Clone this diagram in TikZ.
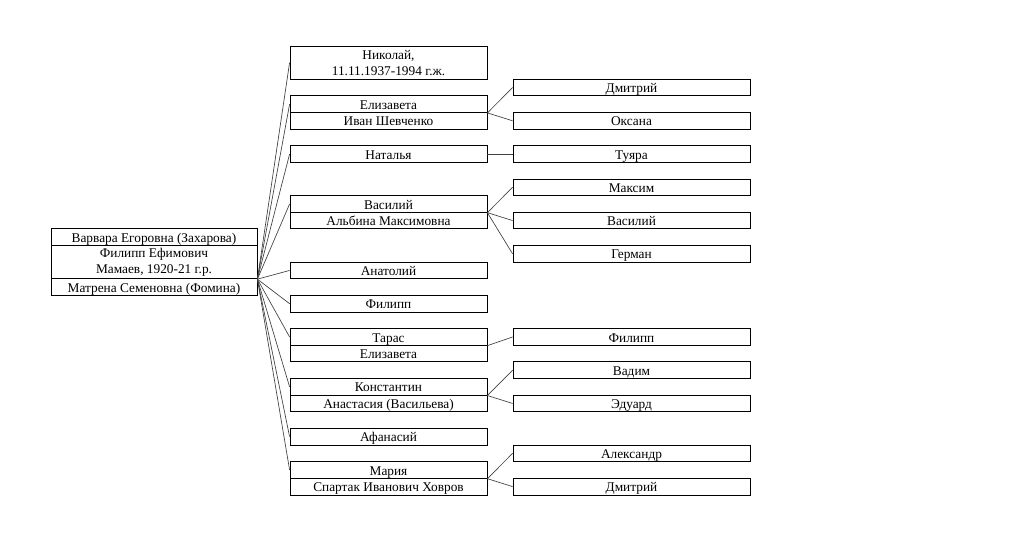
\documentclass[tikz,border=0pt]{standalone}
\usepackage{fontspec}
\setmainfont{Liberation Serif}
\begin{document}
\begin{tikzpicture}[x=0.75pt,y=-12.47pt]
            \tikzstyle{case}=[draw,line width=0.6pt,inner sep=0pt,minimum height=12.47pt,font=\fontsize{10}{12}\selectfont]
            \tikzstyle{ligne}=[case,text height=8pt,text depth=0.4pt]
            \tikzstyle{parent}=[minimum width=154.5pt]
            \tikzstyle{enfant}=[minimum width=147.75pt]
            \tikzstyle{petit}=[minimum width=177.75pt]
            \tikzset{lien/.style = {line width=0.5pt,black!75}}
            \useasboundingbox (0,-2.766) rectangle (1035,30.61);
            % parents
            \node[ligne,parent] (varvara) at (154,11.5) {Варвара Егоровна (Захарова)};
            \node[case,parent,minimum height=24.94pt,align=center] (filipp) at (154,13) {Филипп Ефимович\\Мамаев, 1920-21 г.р.};
            \node[ligne,parent] (matrena) at (154,14.5) {Матрена Семеновна (Фомина)};
            % enfants
            \node[case,enfant,minimum height=24.94pt,align=center] (nikolaj) at (388.5,1) {Николай,\\11.11.1937-1994 г.ж.};
            \node[ligne,enfant] (elizaveta) at (388.5,3.5) {Елизавета};
            \node[ligne,enfant] (ivan) at (388.5,4.5) {Иван Шевченко};
            \node[ligne,enfant] (natalja) at (388.5,6.5) {Наталья};
            \node[ligne,enfant] (vasilij) at (388.5,9.5) {Василий};
            \node[ligne,enfant] (albina) at (388.5,10.5) {Альбина Максимовна};
            \node[ligne,enfant] (anatolij) at (388.5,13.5) {Анатолий};
            \node[ligne,enfant] (filipp2) at (388.5,15.5) {Филипп};
            \node[ligne,enfant] (taras) at (388.5,17.5) {Тарас};
            \node[ligne,enfant] (elizaveta2) at (388.5,18.5) {Елизавета};
            \node[ligne,enfant] (konstantin) at (388.5,20.5) {Константин};
            \node[ligne,enfant] (anastasija) at (388.5,21.5) {Анастасия (Васильева)};
            \node[ligne,enfant] (afanasij) at (388.5,23.5) {Афанасий};
            \node[ligne,enfant] (marija) at (388.5,25.5) {Мария};
            \node[ligne,enfant] (spartak) at (388.5,26.5) {Спартак Иванович Ховров};
            % petits-enfants
            \node[ligne,petit] (dmitrij) at (631.5,2.5) {Дмитрий};
            \node[ligne,petit] (oksana) at (631.5,4.5) {Оксана};
            \node[ligne,petit] (tujara) at (631.5,6.5) {Туяра};
            \node[ligne,petit] (maksim) at (631.5,8.5) {Максим};
            \node[ligne,petit] (vasilij2) at (631.5,10.5) {Василий};
            \node[ligne,petit] (german) at (631.5,12.5) {Герман};
            \node[ligne,petit] (filipp3) at (631.5,17.5) {Филипп};
            \node[ligne,petit] (vadim) at (631.5,19.5) {Вадим};
            \node[ligne,petit] (eduard) at (631.5,21.5) {Эдуард};
            \node[ligne,petit] (aleksandr) at (631.5,24.5) {Александр};
            \node[ligne,petit] (dmitrij2) at (631.5,26.5) {Дмитрий};
            \draw[lien] (filipp.south east) -- (nikolaj.west);
            \draw[lien] (filipp.south east) -- (elizaveta.west);
            \draw[lien] (filipp.south east) -- (natalja.west);
            \draw[lien] (filipp.south east) -- (vasilij.west);
            \draw[lien] (filipp.south east) -- (anatolij.west);
            \draw[lien] (filipp.south east) -- (filipp2.west);
            \draw[lien] (filipp.south east) -- (taras.west);
            \draw[lien] (filipp.south east) -- (konstantin.west);
            \draw[lien] (filipp.south east) -- (afanasij.west);
            \draw[lien] (filipp.south east) -- (marija.west);
            \draw[lien] (elizaveta.south east) -- (dmitrij.west);
            \draw[lien] (elizaveta.south east) -- (oksana.west);
            \draw[lien] (natalja.east) -- (tujara.west);
            \draw[lien] (vasilij.south east) -- (maksim.west);
            \draw[lien] (vasilij.south east) -- (vasilij2.west);
            \draw[lien] (vasilij.south east) -- (german.west);
            \draw[lien] (taras.south east) -- (filipp3.west);
            \draw[lien] (konstantin.south east) -- (vadim.west);
            \draw[lien] (konstantin.south east) -- (eduard.west);
            \draw[lien] (marija.south east) -- (aleksandr.west);
            \draw[lien] (marija.south east) -- (dmitrij2.west);
        \end{tikzpicture}
\end{document}
